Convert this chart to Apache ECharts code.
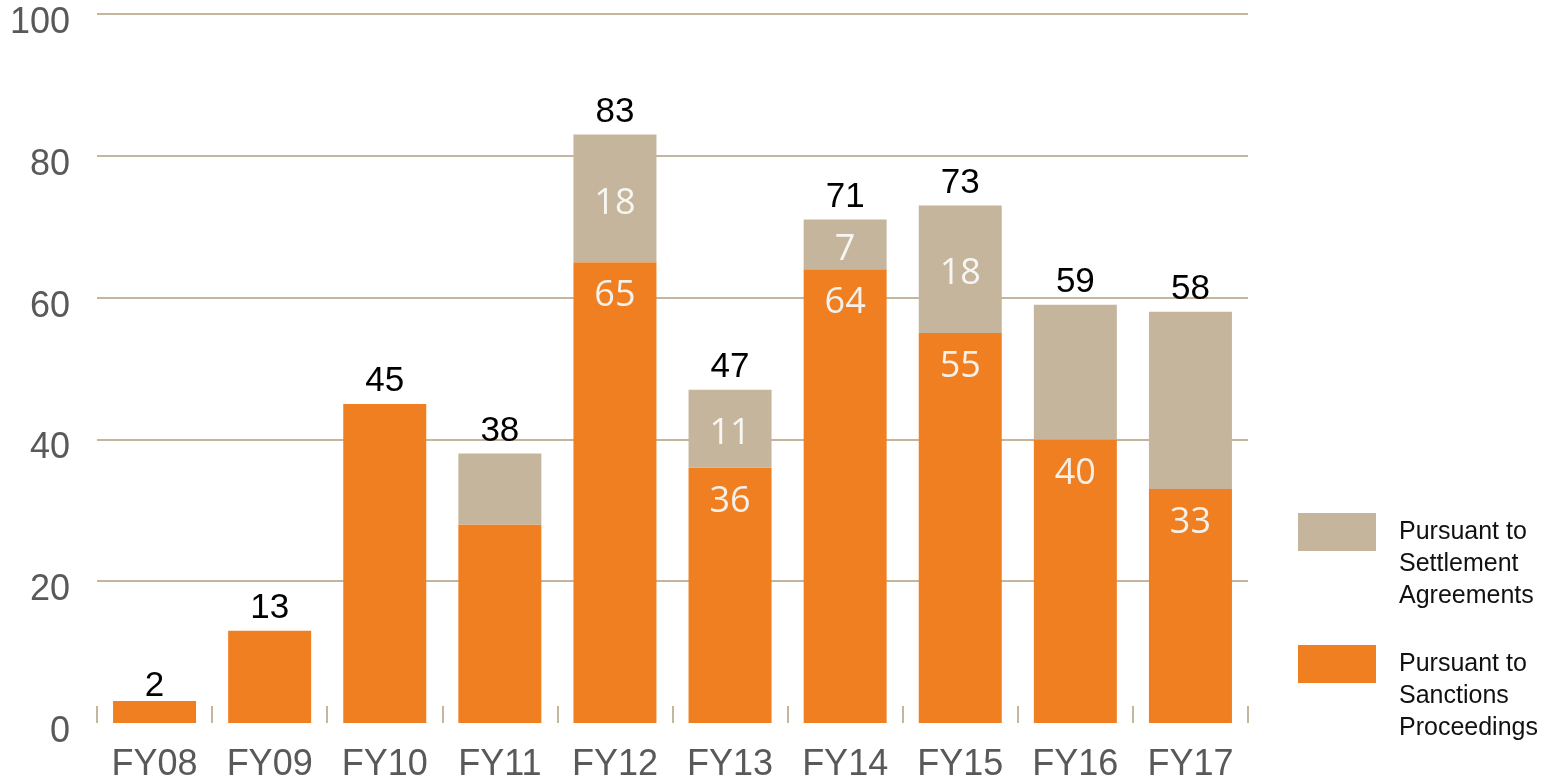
<!DOCTYPE html>
<html>
<head>
<meta charset="utf-8">
<title>Chart</title>
<script src="https://cdn.jsdelivr.net/npm/echarts@6/dist/echarts.min.js"></script>
<style>
    html, body {margin: 0; padding: 0; background: #fff;}
    #chartBox {width: 1549px; height: 779px;}
</style>
</head>
<body>
<div id="chartBox"></div>
<script>
var years = ['FY08', 'FY09', 'FY10', 'FY11', 'FY12', 'FY13', 'FY14', 'FY15', 'FY16', 'FY17'];
var sanctions = [2, 13, 45, 28, 65, 36, 64, 55, 40, 33];
var settlement = [0, 0, 0, 10, 18, 11, 7, 18, 19, 25];
var totals = [2, 13, 45, 38, 83, 47, 71, 73, 59, 58];
// which segments carry a value inside the bar
var sanctionsLabelled = ['FY12', 'FY13', 'FY14', 'FY15', 'FY16', 'FY17'];
var settlementLabelled = ['FY12', 'FY13', 'FY14', 'FY15'];
var yTicks = [0, 20, 40, 60, 80, 100];

var nameSettle = 'Pursuant to Settlement Agreements';
var nameSanction = 'Pursuant to Sanctions Proceedings';
var legendText = {};
legendText[nameSettle] = '\n\nPursuant to\nSettlement\nAgreements';
legendText[nameSanction] = '\n\nPursuant to\nSanctions\nProceedings';

var orange = '#F07F21';
var tan = '#C4B59C';

var myChart = echarts.init(document.getElementById('chartBox'));

function innerLabel(list) {
    return function (p) {
        return list.indexOf(p.name) > -1 ? String(p.value) : '';
    };
}

function makeLegend(name, top) {
    return {
        data: [name],
        orient: 'vertical',
        left: 1298,
        top: top,
        padding: 0,
        itemWidth: 78,
        itemHeight: 38,
        selectedMode: false,
        icon: 'rect',
        formatter: function (n) {
            return legendText[n];
        },
        textStyle: {
            fontFamily: 'Liberation Sans, Arial',
            fontSize: 25,
            lineHeight: 32,
            color: '#111111',
            padding: [0, 0, 0, 18]
        }
    };
}

var option = {
    animation: false,
    grid: {left: 97, right: 301, top: 14, bottom: 56, outerBoundsMode: 'none', containLabel: false},
    legend: [makeLegend(nameSettle, 452), makeLegend(nameSanction, 584)],
    xAxis: {
        type: 'category',
        data: years,
        axisLine: {show: false},
        axisTick: {show: true, inside: true, length: 17, lineStyle: {color: tan, width: 2}},
        axisLabel: {
            margin: 24,
            fontFamily: 'Liberation Sans, Arial',
            fontSize: 36,
            color: '#595959'
        }
    },
    yAxis: {
        type: 'value',
        min: yTicks[0],
        max: yTicks[yTicks.length - 1],
        interval: yTicks[1] - yTicks[0],
        axisLine: {show: false},
        axisTick: {show: false},
        splitLine: {
            lineStyle: {color: tan, width: 2},
            showMinLine: false
        },
        axisLabel: {
            margin: 27,
            color: '#595959',
            formatter: function (v) {
                return '{v|' + v + '}';
            },
            rich: {
                v: {
                    fontFamily: 'Liberation Sans, Arial',
                    fontSize: 36,
                    color: '#595959',
                    padding: [18, 0, 0, 0]
                }
            }
        }
    },
    series: [
        {
            name: nameSanction,
            type: 'bar',
            stack: 'all',
            barWidth: 83,
            barMinHeight: 22,
            itemStyle: {color: orange},
            label: {
                show: true,
                position: 'insideTop',
                distance: 16,
                fontFamily: 'Open Sans, DejaVu Sans',
                fontWeight: 'normal',
                fontSize: 36,
                color: '#F4F0EA',
                formatter: innerLabel(sanctionsLabelled)
            },
            data: sanctions
        },
        {
            name: nameSettle,
            type: 'bar',
            stack: 'all',
            barWidth: 83,
            itemStyle: {color: tan},
            label: {
                show: true,
                position: 'inside',
                offset: [0, 5],
                fontFamily: 'Open Sans, DejaVu Sans',
                fontWeight: 'normal',
                fontSize: 36,
                color: '#F8F6F2',
                formatter: innerLabel(settlementLabelled)
            },
            data: settlement
        },
        {
            // totals above the stacks
            name: 'Total',
            type: 'scatter',
            symbol: 'circle',
            symbolSize: 0,
            silent: true,
            itemStyle: {opacity: 0},
            label: {
                show: true,
                position: 'top',
                distance: 5,
                fontFamily: 'Liberation Sans, Arial',
                fontSize: 35,
                color: '#000000',
                opacity: 1
            },
            data: totals,
            z: 5
        }
    ]
};
myChart.setOption(option);
</script>
</body>
</html>
